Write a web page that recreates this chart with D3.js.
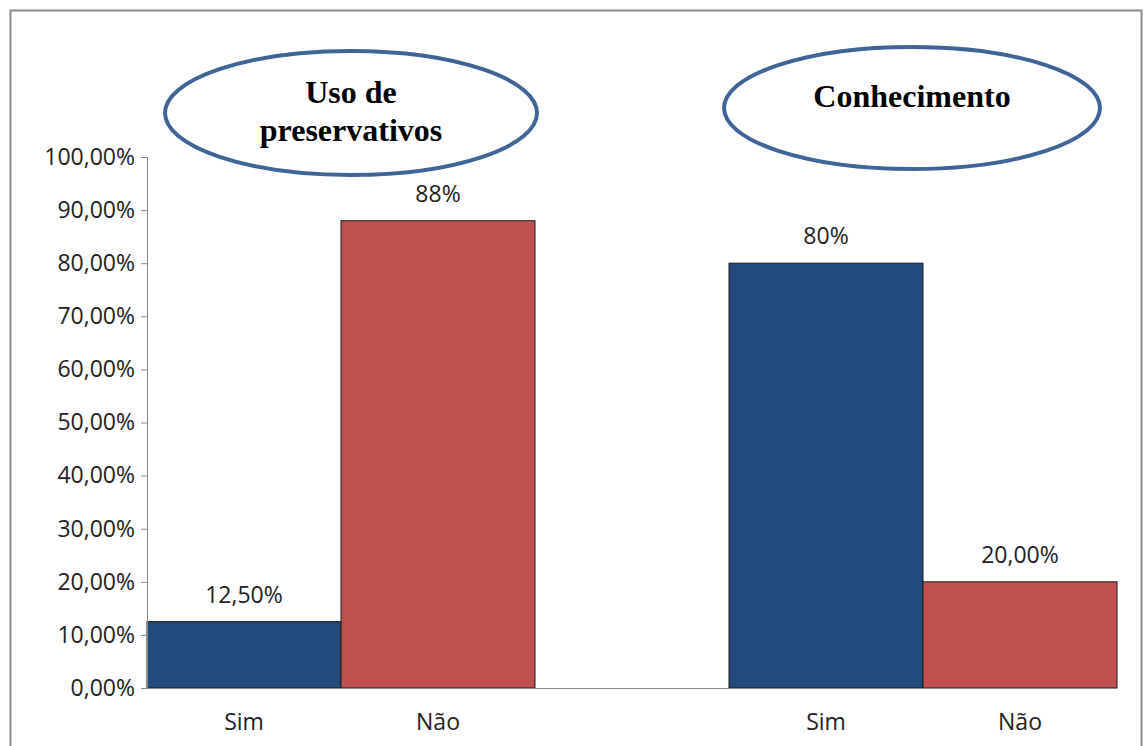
<!DOCTYPE html>
<html>
<head>
<meta charset="utf-8">
<script src="https://cdn.jsdelivr.net/npm/d3@7/dist/d3.min.js"></script>
<style>
  html, body { margin: 0; padding: 0; background: #fff; }
  svg { display: block; }
</style>
</head>
<body>
<svg id="chart" width="1146" height="746"></svg>
<script>
// Survey answers: condom use and knowledge, Sim / Não shares
const categories = ["Sim", "Não", "", "Sim", "Não"];
const slotKeys = ["uso-sim", "uso-nao", "gap", "con-sim", "con-nao"];
const values = [12.5, 88, null, 80, 20];
const valueLabels = ["12,50%", "88%", "", "80%", "20,00%"];
const barColors = ["#224a7c", "#c0504d", null, "#224a7c", "#c0504d"];
const yTicks = [0, 10, 20, 30, 40, 50, 60, 70, 80, 90, 100];
const groupTitles = [["Uso de", "preservativos"], ["Conhecimento"]];

const svg = d3.select("#chart");
const plot = { left: 147, right: 1117, top: 157, bottom: 688 };
const sans = "'Open Sans', 'Noto Sans', sans-serif";
const labelSize = 23;

const fmtTick = d => d.toFixed(2).replace(".", ",") + "%";

// outer chart frame
svg.append("rect")
  .attr("x", 10.5).attr("y", 10.5)
  .attr("width", 1131).attr("height", 745)
  .attr("fill", "#fff").attr("stroke", "#8c8c8c").attr("stroke-width", 2);

const x = d3.scaleBand().domain(slotKeys).range([plot.left, plot.right]).padding(0);
const y = d3.scaleLinear().domain([0, 100]).range([plot.bottom, plot.top]);

// bars
const rows = slotKeys.map((k, i) => ({ key: k, cat: categories[i], v: values[i], lab: valueLabels[i], col: barColors[i] }));
const data = rows.filter(r => r.v !== null);

svg.append("g").selectAll("rect").data(data).join("rect")
  .attr("x", d => x(d.key))
  .attr("y", d => y(d.v))
  .attr("width", x.bandwidth())
  .attr("height", d => y(0) - y(d.v))
  .attr("fill", d => d.col)
  .attr("stroke", "#1a1a1a").attr("stroke-width", 1);

// y axis
const yAxis = d3.axisLeft(y).tickValues(yTicks).tickFormat(fmtTick).tickSize(6).tickPadding(6);
const gy = svg.append("g").attr("transform", `translate(${plot.left},0)`).call(yAxis);
gy.select(".domain").attr("stroke", "#868686");
gy.selectAll(".tick line").attr("stroke", "#868686");
gy.selectAll(".tick text")
  .attr("font-family", sans)
  .attr("font-size", labelSize).attr("fill", "#222");

// baseline
svg.append("line")
  .attr("x1", plot.left).attr("x2", plot.right)
  .attr("y1", y(0) + 0.5).attr("y2", y(0) + 0.5)
  .attr("stroke", "#868686").attr("stroke-width", 1);

// category labels
const xAxis = d3.axisBottom(x).tickFormat((k, i) => categories[i]).tickSize(0).tickPadding(26);
const gx = svg.append("g").attr("transform", `translate(0,${plot.bottom})`).call(xAxis);
gx.select(".domain").remove();
gx.selectAll(".tick text")
  .attr("font-family", sans)
  .attr("font-size", labelSize).attr("fill", "#222");

// value labels
svg.append("g").selectAll("text").data(data).join("text")
  .attr("x", d => x(d.key) + x.bandwidth() / 2)
  .attr("y", d => y(d.v) - 19)
  .attr("text-anchor", "middle")
  .attr("font-family", sans)
  .attr("font-size", labelSize).attr("fill", "#222")
  .text(d => d.lab);

// group title ellipses
const ellipses = [
  { cx: 351, cy: 113, rx: 186, ry: 62, dy: [-17, 21] },
  { cx: 912, cy: 108, rx: 188, ry: 61, dy: [-8] }
];
groupTitles.forEach((lines, gi) => {
  const e = ellipses[gi];
  svg.append("ellipse")
    .attr("cx", e.cx).attr("cy", e.cy).attr("rx", e.rx).attr("ry", e.ry)
    .attr("fill", "#fff").attr("stroke", "#3d6597").attr("stroke-width", 4);
  lines.forEach((t, li) => {
    svg.append("text")
      .attr("x", e.cx).attr("y", e.cy + e.dy[li])
      .attr("text-anchor", "middle").attr("dominant-baseline", "middle")
      .attr("font-family", "'Liberation Serif', 'DejaVu Serif', serif")
      .attr("font-weight", "bold").attr("font-size", 32).attr("fill", "#000")
      .text(t);
  });
});
</script>
</body>
</html>
